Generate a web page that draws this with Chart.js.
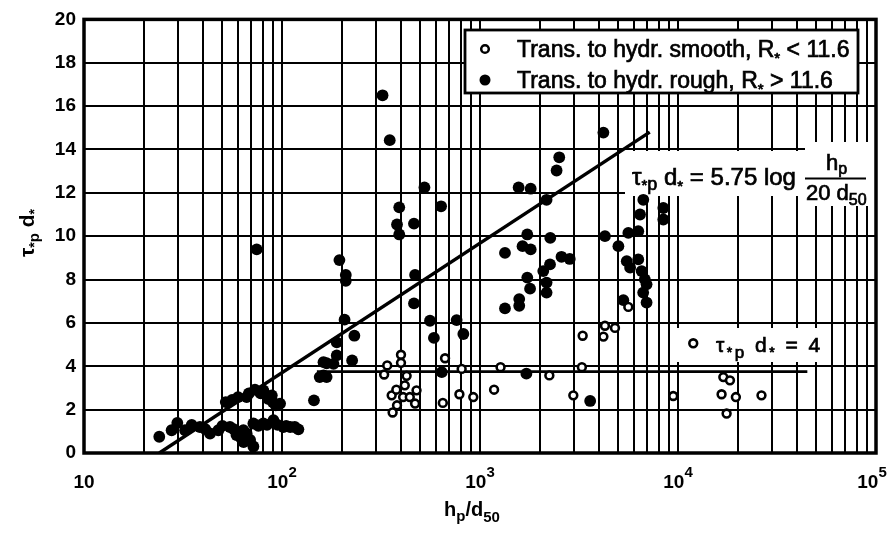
<!DOCTYPE html>
<html>
<head>
<meta charset="utf-8">
<script src="https://cdn.jsdelivr.net/npm/chart.js@4.4.0/dist/chart.umd.min.js"></script>
<style>
html,body{margin:0;padding:0;background:#fff;}
canvas{display:block;}
</style>
</head>
<body>
<canvas id="fig" width="891" height="534"></canvas>
<script>
// values
const roughH = [24, 27.7, 29.6, 32.4, 35, 38.5, 41, 43.3, 47.7, 50, 52, 54.6, 56, 57, 58.9, 60, 62, 63.8, 64, 66.3,
  66.3, 68, 69, 71.7, 71.7, 73, 74.5, 76, 78, 80.5, 80.5, 84, 85, 88.8, 89.8, 90.5, 93, 95, 97.8, 101.6,
  105, 110, 116, 121, 145, 155, 162, 162, 168, 168, 182, 189, 189, 195, 207, 210, 210, 226, 232, 322,
  350, 381, 391, 391, 464, 464, 470, 524, 559, 585, 636, 641, 762, 824, 1337, 1337, 1567, 1578, 1578, 1640,
  1715, 1733, 1733, 1790, 1803, 1803, 2087, 2169, 2169, 2169, 2257, 2264, 2437, 2513, 2580, 2840, 3600, 4200, 4277, 5000,
  5297, 5510, 5612, 5730, 6300, 6300, 6430, 6550, 6670, 6680, 6800, 6940, 6940, 8430, 8430];
const roughTau = [0.75, 1.05, 1.39, 1.05, 1.3, 1.2, 1.1, 0.9, 1.05, 1.25, 2.35, 1.2, 2.45, 1.1, 0.83, 2.58, 0.7, 1.05, 0.5, 2.58,
  0.9, 2.75, 0.6, 0.3, 1.36, 2.92, 9.39, 1.25, 2.75, 2.89, 1.36, 1.3, 2.5, 2.66, 2.35, 1.51, 2.2, 1.3, 2.28, 1.2,
  1.25, 1.2, 1.2, 1.09, 2.43, 3.5, 3.58, 4.19, 3.5, 4.14, 4.11, 5.1, 4.5, 8.9, 6.15, 8.21, 7.94, 4.27, 5.41, 16.5,
  14.43, 10.54, 11.33, 10.08, 10.58, 6.9, 8.21, 12.25, 6.1, 5.31, 11.38, 3.73, 6.13, 5.49, 9.23, 6.67, 12.25, 7.1, 6.79, 9.54,
  3.66, 10.08, 8.09, 7.58, 12.19, 9.39, 8.39, 11.68, 7.86, 7.4, 8.7, 9.92, 13.03, 13.64, 9.05, 8.95, 2.4, 14.78, 10.0, 9.54,
  7.05, 8.85, 10.15, 8.55, 10.23, 8.93, 11.0, 8.39, 7.4, 11.68, 8.01, 7.78, 6.94, 11.3, 10.77];

const smoothH = [328, 340, 358, 362, 378, 381, 399, 399, 409, 417, 426, 442, 470, 478, 649, 666, 787, 808, 925, 1178,
  1270, 2240, 2960, 3270, 3300, 4200, 4277, 4805, 5612, 9460, 11940, 16600, 16940, 17600, 18300, 19600, 26400];
const smoothTau = [3.62, 4.04, 2.66, 1.87, 2.92, 2.2, 4.53, 4.16, 2.58, 3.12, 3.56, 2.58, 2.28, 2.89, 2.31, 4.37, 2.71, 3.88, 2.58, 2.92,
  3.96, 3.58, 2.66, 3.96, 5.41, 5.37, 5.87, 5.77, 6.74, 2.63, 5.06, 2.71, 3.5, 1.82, 3.35, 2.58, 2.66];

// fitted lines, end points
const slopeLineH = [24, 7200];
const slopeLineTau = [0, 14.8];
const flatLineH = [150, 45000];
const flatLineTau = [3.75, 3.75];

// axis ticks
const decadeStarts = [10, 100, 1000, 10000];
const xLabelExp = [1, 2, 3, 4, 5];
const yMin = 0, yMax = 20, yStep = 2;

const FAM = '"Liberation Sans", Arial, Helvetica, sans-serif';

function pairs(xs, ys){
    return xs.map((x, i) => ({x: x, y: ys[i]}));
}

// log grid: 1..9 in each decade
const xGrid = [];
decadeStarts.forEach(d => { for(let k = 1; k <= 9; k++) xGrid.push(k * d); });
xGrid.push(decadeStarts[decadeStarts.length - 1] * 10);

// draw text pieces one after another (for sub/superscripts)
function runsWidth(ctx, runs){
    let w = 0;
    runs.forEach(r => { ctx.font = r[1]; w += ctx.measureText(r[0]).width; });
    return w;
}
function drawRuns(ctx, x, y, runs, heavy){
    runs.forEach(r => {
        ctx.font = r[1];
        ctx.fillText(r[0], x, y + (r[2] || 0));
        if(heavy) ctx.strokeText(r[0], x, y + (r[2] || 0)); // scan looks heavier than regular
        x += ctx.measureText(r[0]).width;
    });
    return x;
}
function f(size, bold){ return (bold ? 'bold ' : '') + size + 'px ' + FAM; }

const paper = {
    id: 'paper',
    beforeDatasetsDraw(chart){
        const ctx = chart.ctx;
        ctx.save();
        ctx.fillStyle = '#fff';
        // label backgrounds cover the grid
        ctx.fillRect(625, 151, 180, 45);
        ctx.fillRect(805, 142, 71, 64);
        ctx.fillRect(677, 328, 153, 34);
        ctx.restore();
    },
    afterDatasetsDraw(chart){
        const ctx = chart.ctx;
        const a = chart.chartArea;
        const xs = chart.scales.x;
        ctx.save();
        ctx.fillStyle = '#000';
        ctx.strokeStyle = '#000';

        // frame
        ctx.lineWidth = 3.5;
        ctx.strokeRect(a.left, a.top, a.right - a.left, a.bottom - a.top);

        // x tick labels, 10, 10^2 ...
        ctx.textBaseline = 'alphabetic';
        ctx.textAlign = 'left';
        xLabelExp.forEach(n => {
            const px = xs.getPixelForValue(Math.pow(10, n));
            const runs = n === 1 ? [['10', f(19, true), 0]] : [['10', f(19, true), 0], [String(n), f(15, true), -11]];
            const w = runsWidth(ctx, runs);
            drawRuns(ctx, px - w / 2 - (n === 5 ? 4 : 0), 488, runs);
        });

        // x title  hp/d50
        drawRuns(ctx, 444, 516, [['h', f(20, true), 0], ['p', f(15, true), 5], ['/d', f(20, true), 0], ['50', f(15, true), 6]]);

        // y title, rotated
        ctx.save();
        ctx.translate(34, 233);
        ctx.rotate(-Math.PI / 2);
        const yt = [['τ', f(21, true), 0], ['*', f(14, true), 5], ['p', f(15, true), 5], [' d', f(21, true), 0], ['*', f(14, true), 5]];
        drawRuns(ctx, -runsWidth(ctx, yt) / 2, 0, yt);
        ctx.restore();

        ctx.lineWidth = 0.7;
        // equation labels
        drawRuns(ctx, 632, 185, [['τ', f(24), 0], ['*', f(15), 5], ['p', f(18), 5], [' d', f(24), 0], ['*', f(15), 6], [' = 5.75 log', f(24), 0]], true);
        drawRuns(ctx, 826, 170, [['h', f(22), 0], ['p', f(16), 4]], true);
        ctx.lineWidth = 2.2;
        ctx.beginPath();
        ctx.moveTo(805, 178.5);
        ctx.lineTo(866, 178.5);
        ctx.stroke();
        ctx.lineWidth = 0.7;
        drawRuns(ctx, 806, 200, [['20 d', f(22), 0], ['50', f(16), 5]], true);

        ctx.letterSpacing = '2.5px';
        drawRuns(ctx, 716, 352, [['τ', f(21), 0], ['*', f(14), 5], ['p', f(17), 6], [' d', f(21), 0], ['*', f(14), 5], [' = 4', f(21), 0]], true);
        ctx.letterSpacing = '0px';

        // legend box
        ctx.fillStyle = '#fff';
        ctx.fillRect(465, 30, 393, 63);
        ctx.lineWidth = 2.8;
        ctx.strokeRect(465, 30, 393, 63);
        ctx.beginPath();
        ctx.arc(485, 49, 3.8, 0, Math.PI * 2);
        ctx.fill();
        ctx.lineWidth = 2.5;
        ctx.stroke();
        ctx.fillStyle = '#000';
        ctx.beginPath();
        ctx.arc(485, 80, 5.5, 0, Math.PI * 2);
        ctx.fill();
        ctx.lineWidth = 0.7;
        drawRuns(ctx, 517, 57, [['Trans. to hydr. smooth, R', f(23), 0], ['*', f(15), 6], [' < 11.6', f(23), 0]], true);
        drawRuns(ctx, 517, 88, [['Trans. to hydr. rough, R', f(23), 0], ['*', f(15), 6], [' > 11.6', f(23), 0]], true);

        ctx.restore();
    }
};

new Chart(document.getElementById('fig'), {
    type: 'scatter',
    data: {
        datasets: [
            {
                label: 'Trans. to hydr. smooth',
                data: pairs(smoothH, smoothTau),
                pointStyle: 'circle',
                pointRadius: 3.9,
                pointBorderWidth: 2.6,
                pointBackgroundColor: '#fff',
                pointBorderColor: '#000',
                order: 0
            },
            {
                label: 'Trans. to hydr. rough',
                data: pairs(roughH, roughTau),
                pointStyle: 'circle',
                pointRadius: 5.9,
                pointBorderWidth: 0,
                pointBackgroundColor: '#000',
                pointBorderColor: '#000',
                order: 1
            },
            {
                label: 'slope',
                data: pairs(slopeLineH, slopeLineTau),
                showLine: true,
                pointRadius: 0,
                borderColor: '#000',
                borderWidth: 3.4,
                order: 2
            },
            {
                label: 'flat',
                data: pairs(flatLineH, flatLineTau),
                showLine: true,
                pointRadius: 0,
                borderColor: '#000',
                borderWidth: 2.8,
                order: 2
            }
        ]
    },
    options: {
        responsive: false,
        devicePixelRatio: 1,
        animation: false,
        layout: {padding: {top: 17, right: 15, left: 0, bottom: 0}},
        plugins: {legend: {display: false}, tooltip: {enabled: false}},
        scales: {
            x: {
                type: 'logarithmic',
                min: 10,
                max: 100000,
                border: {display: false},
                grid: {color: '#000', lineWidth: 2, drawTicks: false},
                ticks: {display: false},
                afterBuildTicks: s => { s.ticks = xGrid.map(v => ({value: v})); },
                afterFit: s => { s.height = 81; }
            },
            y: {
                type: 'linear',
                min: yMin,
                max: yMax,
                border: {display: false},
                grid: {color: '#000', lineWidth: 2, drawTicks: false},
                ticks: {
                    stepSize: yStep,
                    color: '#000',
                    padding: 8,
                    font: {family: FAM, size: 19, weight: 'bold'}
                },
                afterFit: s => { s.width = 84; }
            }
        }
    },
    plugins: [paper]
});
</script>
</body>
</html>
